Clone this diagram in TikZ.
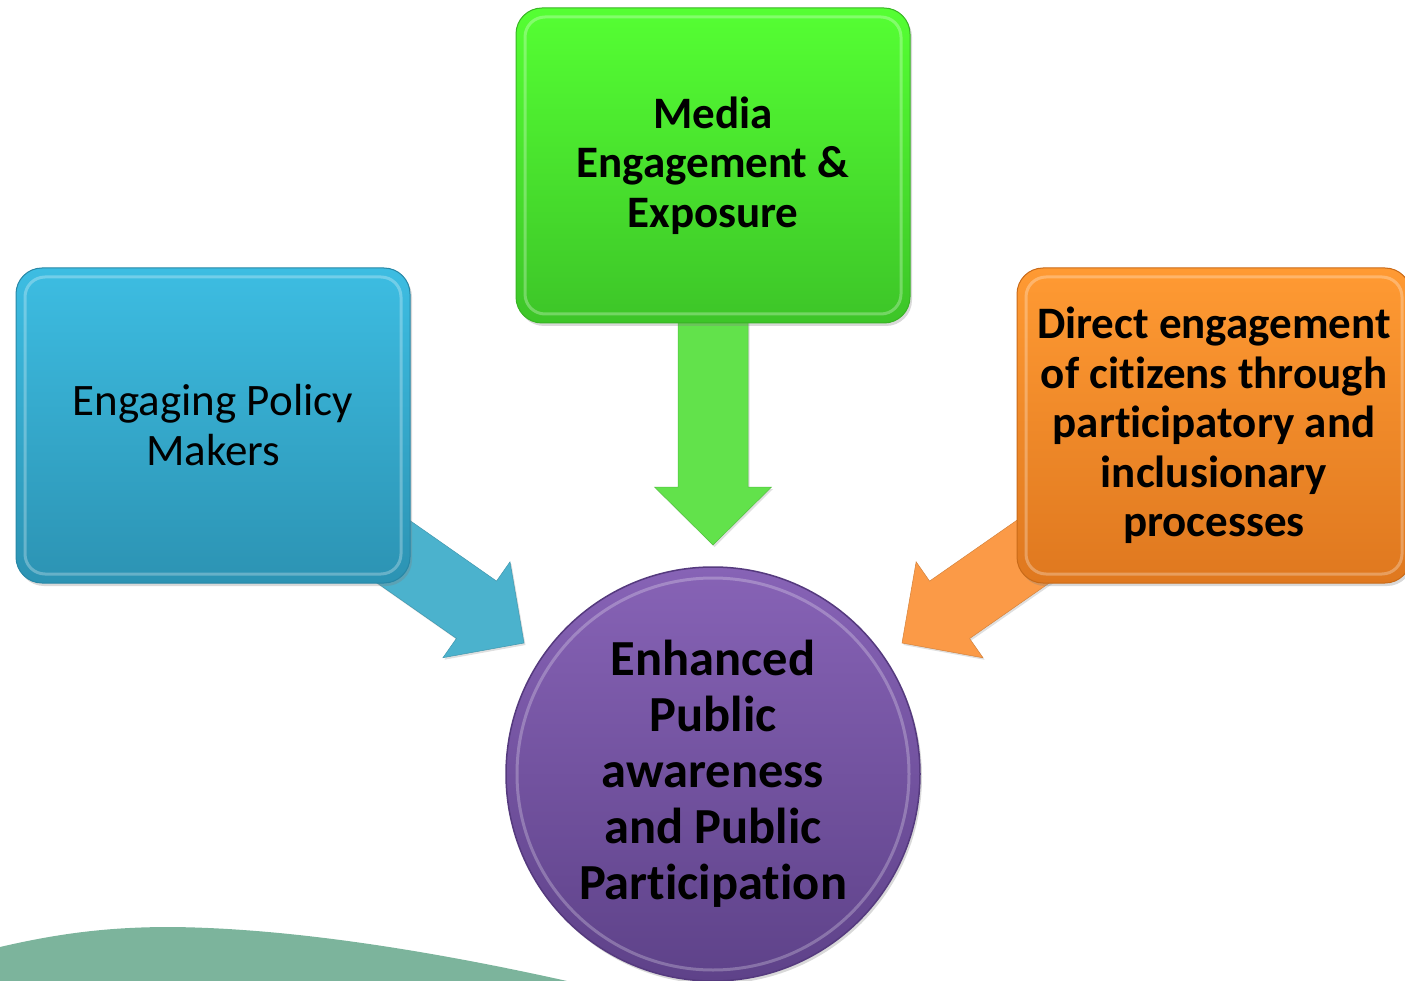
\documentclass[tikz,border=0pt]{standalone}
\usepackage{fontspec}
\setmainfont[Ligatures=NoCommon]{Carlito}
\usetikzlibrary{calc,shadows}

\definecolor{bluetop}{HTML}{3DBDE2}
\definecolor{bluebot}{HTML}{2C93B3}
\definecolor{blueedge}{HTML}{2787A6}
\definecolor{bluearrow}{HTML}{4BB2CD}
\definecolor{greentop}{HTML}{55FF33}
\definecolor{greenbot}{HTML}{3DC528}
\definecolor{greenedge}{HTML}{38B424}
\definecolor{greenarrow}{HTML}{62E24B}
\definecolor{orangetop}{HTML}{FF9A33}
\definecolor{orangebot}{HTML}{DF781F}
\definecolor{orangeedge}{HTML}{C96A18}
\definecolor{orangearrow}{HTML}{FB9A47}
\definecolor{purpletop}{HTML}{8763B6}
\definecolor{purplebot}{HTML}{5E4289}
\definecolor{purpleedge}{HTML}{553A7E}
\definecolor{wavegreen}{HTML}{7CB49C}

% block arrow: #1 style, #2 base, #3 tip, #4 name for the head base
\newcommand\blockarrow[4]{%
  \coordinate (#4) at ($(#3)!58pt!(#2)$);
  \fill[#1] ($(#2)!35pt!90:(#3)$) -- ($(#4)!35pt!90:(#3)$) -- ($(#4)!58.5pt!90:(#3)$)
    -- (#3) -- ($(#4)!58.5pt!-90:(#3)$) -- ($(#4)!35pt!-90:(#3)$)
    -- ($(#2)!35pt!-90:(#3)$) -- cycle;}

\tikzset{
  tile/.style={rounded corners=26pt, minimum width=394pt, minimum height=315pt,
    line width=1pt, align=center, text=black,
    drop shadow={opacity=0.3, shadow xshift=2pt, shadow yshift=-3pt},
    path picture={\draw[white, opacity=0.28, line width=3pt, rounded corners=20pt]
      ([shift={(9pt,-9pt)}]path picture bounding box.north west) rectangle
      ([shift={(-9pt,9pt)}]path picture bounding box.south east);}},
  bluetile/.style={tile, top color=bluetop, bottom color=bluebot, draw=blueedge},
  greentile/.style={tile, top color=greentop, bottom color=greenbot, draw=greenedge},
  orangetile/.style={tile, top color=orangetop, bottom color=orangebot, draw=orangeedge},
  boxtext/.style={font=\fontsize{45}{50}\selectfont},
  boldtext/.style={font=\fontsize{45}{49.5}\selectfont\bfseries},
  goaltext/.style={font=\fontsize{50.5}{56}\selectfont\bfseries},
  arrowbody/.style={drop shadow={opacity=0.25, shadow xshift=1.5pt, shadow yshift=-2pt}},
}

\begin{document}
\begin{tikzpicture}[x=1pt, y=-1pt]
  \useasboundingbox (0,0) rectangle (1405,981);

  % green wave along the bottom edge
  \fill[wavegreen] (0,981) -- (0,947) .. controls (60,933) and (110,927) .. (170,927)
    .. controls (300,928) and (450,955) .. (567,981) -- cycle;

  % node centres
  \coordinate (policyc) at (213,425.5);
  \coordinate (mediac) at (713,165.5);
  \coordinate (directc) at (1214,425.5);

  % arrow tips
  \coordinate (tipL) at (524,643);
  \coordinate (tipT) at (713,545);
  \coordinate (tipR) at (902,643);

  % block arrows, drawn first so the boxes cover their bases
  \blockarrow{arrowbody, bluearrow, draw=bluearrow!85!black, line width=0.5pt}{policyc}{tipL}{headL}
  \blockarrow{arrowbody, greenarrow, draw=greenarrow!85!black, line width=0.5pt}{mediac}{tipT}{headT}
  \blockarrow{arrowbody, orangearrow, draw=orangearrow!85!black, line width=0.5pt}{directc}{tipR}{headR}

  % boxes
  \node[bluetile, boxtext] (policy) at (policyc) {Engaging Policy\\Makers};
  \node[greentile, boldtext] (media) at (mediac) {Media\\Engagement \&\\Exposure};
  \node[orangetile, boldtext] (direct) at (directc)
    {Direct engagement\\of citizens through\\participatory and\\inclusionary\\processes};

  % central circle
  \node[circle, minimum size=414pt, top color=purpletop, bottom color=purplebot,
        draw=purpleedge, line width=1.5pt, align=center, goaltext,
        drop shadow={opacity=0.3, shadow xshift=2pt, shadow yshift=-3pt},
        path picture={\draw[white, opacity=0.25, line width=3pt]
          (path picture bounding box.center) circle (196pt);}]
    (goal) at (713,774) {Enhanced\\Public\\awareness\\and Public\\Participation};
\end{tikzpicture}
\end{document}
